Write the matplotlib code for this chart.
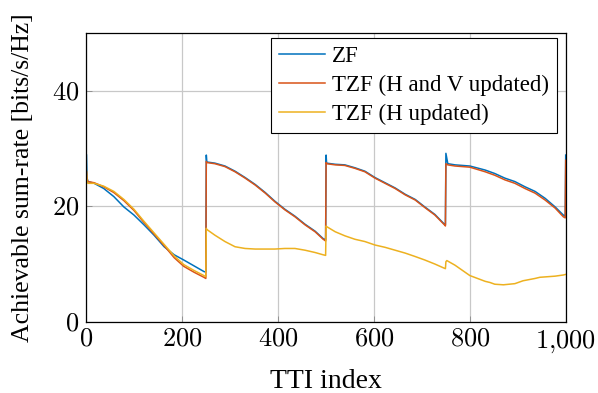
import matplotlib
matplotlib.use("Agg")
import matplotlib.pyplot as plt

# ---- data ----
# ZF
zf_tti = [0, 1, 3, 16, 36, 57, 78, 99, 120, 141, 162, 183, 203, 224, 245, 249,
          250, 251, 268, 289, 310, 331, 352, 373, 393, 414, 435, 456, 477, 494, 499,
          500, 501, 519, 539, 560, 581, 602, 623, 644, 665, 686, 706, 727, 747, 749,
          750, 754, 769, 800, 832, 852, 873, 894, 915, 936, 957, 978, 995, 999, 1000]
zf_val = [28.9, 25.0, 24.3, 24.0, 23.1, 21.7, 19.9, 18.5, 16.8, 15.0, 13.0, 11.6, 10.7, 9.7, 8.7, 8.6,
          28.9, 27.7, 27.5, 27.0, 26.1, 25.0, 23.8, 22.4, 20.9, 19.5, 18.3, 16.9, 15.7, 14.4, 14.2,
          28.9, 27.5, 27.3, 27.2, 26.7, 26.1, 25.0, 24.1, 23.2, 22.1, 21.2, 19.9, 18.6, 16.9, 16.8,
          29.2, 27.4, 27.2, 27.0, 26.3, 25.7, 24.9, 24.3, 23.4, 22.6, 21.4, 19.9, 18.5, 18.3, 28.9]

# TZF (H and V updated)
tzfhv_tti = [0, 1, 3, 16, 36, 57, 78, 99, 120, 141, 162, 183, 203, 224, 245, 249,
             250, 251, 268, 289, 310, 331, 352, 373, 393, 414, 435, 456, 477, 494, 499,
             500, 501, 519, 539, 560, 581, 602, 623, 644, 665, 686, 706, 727, 747, 749,
             750, 754, 769, 800, 832, 852, 873, 894, 915, 936, 957, 978, 995, 999, 1000]
tzfhv_val = [26.0, 24.8, 24.3, 24.1, 23.4, 22.4, 21.0, 19.3, 17.2, 15.2, 13.2, 11.1, 9.6, 8.6, 7.7, 7.5,
             27.8, 27.6, 27.4, 26.9, 26.0, 24.9, 23.7, 22.3, 20.8, 19.4, 18.2, 16.8, 15.6, 14.3, 14.0,
             27.6, 27.4, 27.2, 27.1, 26.6, 26.0, 24.9, 24.0, 23.1, 22.0, 21.1, 19.8, 18.5, 16.8, 16.6,
             27.4, 27.2, 27.0, 26.8, 26.0, 25.4, 24.6, 24.0, 23.1, 22.3, 21.1, 19.7, 18.2, 18.0, 28.0]

# TZF (H updated)
tzfh_tti = [0, 1, 3, 16, 36, 57, 78, 99, 120, 141, 162, 183, 203, 224, 245, 249,
            250, 251, 268, 289, 310, 331, 352, 373, 393, 414, 435, 456, 477, 494, 499,
            500, 501, 519, 539, 560, 581, 602, 623, 644, 665, 686, 706, 727, 746, 749,
            750, 752, 769, 800, 832, 842, 852, 870, 894, 911, 936, 946, 978, 995, 1000]
tzfh_val = [26.0, 24.3, 24.0, 24.0, 23.5, 22.6, 21.2, 19.5, 17.4, 15.4, 13.4, 11.4, 9.9, 8.9, 8.0, 7.8,
            16.2, 16.0, 15.0, 13.9, 13.0, 12.7, 12.6, 12.6, 12.6, 12.7, 12.7, 12.4, 12.0, 11.6, 11.5,
            16.6, 16.5, 15.6, 14.9, 14.3, 13.9, 13.3, 12.9, 12.4, 11.9, 11.3, 10.7, 10.0, 9.3, 9.2,
            10.4, 10.6, 9.8, 8.0, 7.0, 6.8, 6.5, 6.4, 6.6, 7.1, 7.5, 7.7, 7.9, 8.1, 8.2]

labels = ["ZF", "TZF (H and V updated)", "TZF (H updated)"]
colors = ["#0072BD", "#D95319", "#EDB120"]

xticks = [0, 200, 400, 600, 800, 1000]
xticklabels = [r"$0$", r"$200$", r"$400$", r"$600$", r"$800$", r"$1{,}000$"]
yticks = [0, 20, 40]
yticklabels = [r"$0$", r"$20$", r"$40$"]

plt.rcParams["mathtext.fontset"] = "cm"
plt.rcParams["font.family"] = ["Liberation Serif", "DejaVu Serif"]

fig = plt.figure(figsize=(5.98, 3.93), dpi=100)
ax = fig.add_axes([86.5 / 598, 71.3 / 393, 479.2 / 598, 288.3 / 393])

ax.plot(zf_tti, zf_val, color=colors[0], lw=1.1, label=labels[0])
ax.plot(tzfhv_tti, tzfhv_val, color=colors[1], lw=1.1, label=labels[1])
ax.plot(tzfh_tti, tzfh_val, color=colors[2], lw=1.1, label=labels[2])

ax.set_xlim(0, 1000)
ax.set_ylim(0, 50)
ax.set_xticks(xticks)
ax.set_xticklabels(xticklabels, fontsize=19)
ax.set_yticks(yticks)
ax.set_yticklabels(yticklabels, fontsize=19)
ax.tick_params(direction="in", length=4, width=0.6, color="#888888", pad=5)
ax.grid(True, color="#c8c8c8", lw=0.9)
ax.set_axisbelow(True)
for s in ax.spines.values():
    s.set_linewidth(0.9)
    s.set_color("black")

ax.set_xlabel("TTI index", fontsize=20, labelpad=10)
ax.set_ylabel("Achievable sum-rate [bits/s/Hz]", fontsize=18.5, labelpad=13)

leg = ax.legend(loc="upper right", bbox_to_anchor=(0.982, 0.983), fontsize=16.5,
                frameon=True, fancybox=False, edgecolor="black", framealpha=1,
                handlelength=2.0, handletextpad=0.3, borderpad=0.35, labelspacing=0.33,
                borderaxespad=0)
leg.get_frame().set_linewidth(0.8)

fig.savefig("out.png", dpi=100)
